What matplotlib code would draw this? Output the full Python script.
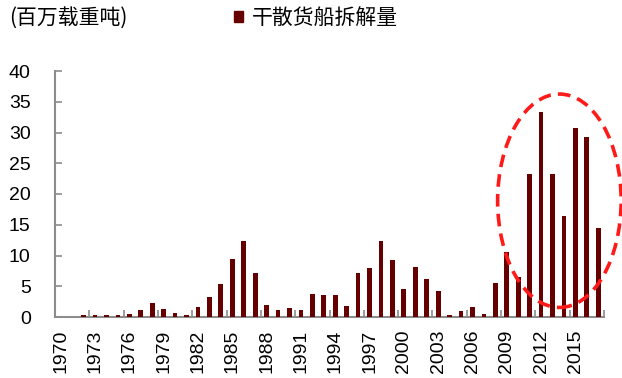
import matplotlib

matplotlib.use("Agg")
import matplotlib.pyplot as plt
from matplotlib.patches import Ellipse, Patch
import numpy as np

years = list(range(1970, 2018))
scrapping = [0, 0, 0.3, 0.3, 0.4, 0.4, 0.5, 1.1, 2.2, 1.3,
             0.6, 0.3, 1.7, 3.2, 5.3, 9.4, 12.3, 7.1, 2.0, 1.1,
             1.5, 1.1, 3.8, 3.5, 3.5, 1.8, 7.1, 7.9, 12.3, 9.3,
             4.6, 8.1, 6.1, 4.2, 0.3, 0.9, 1.7, 0.5, 5.6, 10.5,
             6.5, 23.2, 33.4, 23.2, 16.4, 30.7, 29.2, 14.5]
y_ticks = [0, 5, 10, 15, 20, 25, 30, 35, 40]

BAR = "#660000"
GRID = "#8c8c8c"
CJK = ["Noto Sans CJK SC", "DejaVu Sans"]

plt.rcParams["font.family"] = ["Liberation Sans", "DejaVu Sans"]

fig = plt.figure(figsize=(6.22, 3.78), dpi=100)
ax = fig.add_axes([55 / 622, 1 - 317 / 378, 549 / 622, 246 / 378])

x = np.arange(len(years))
ax.bar(x, scrapping, width=0.42, color=BAR, zorder=3)

ax.set_xlim(-0.5, len(years) - 0.5)
ax.set_ylim(0, 40)
ax.set_yticks(y_ticks)
ax.set_yticklabels([str(v) for v in y_ticks], fontsize=14)
ax.tick_params(axis="y", direction="in", length=5, width=1.2, color=GRID, pad=17.5)

# tick marks on category boundaries, labels on every 3rd category
ax.set_xticks(np.arange(-0.5, len(years), 3))
ax.set_xticklabels([])
ax.tick_params(axis="x", which="major", direction="in", length=5, width=1.2, color=GRID)
ax.set_xticks(x[::3], minor=True)
ax.set_xticklabels([str(y) for y in years[::3]], minor=True, rotation=90, fontsize=14)
ax.tick_params(axis="x", which="minor", length=0, pad=9)

for s in ("top", "right"):
    ax.spines[s].set_visible(False)
for s in ("left", "bottom"):
    ax.spines[s].set_color(GRID)
    ax.spines[s].set_linewidth(1.5)

# highlight of the recent scrapping wave
ax.add_patch(Ellipse((43.6, 18.9), 10.8, 34.7, fill=False, edgecolor="#ff1a1a",
                     lw=2.6, ls=(0, (3.5, 2)), clip_on=False, zorder=5))

fig.text(9 / 622, 1 - 18 / 378, "(百万载重吨)", fontsize=15, family=CJK, va="center")
fig.legend(handles=[Patch(color=BAR, label="干散货船拆解量")], loc="center left",
           bbox_to_anchor=(234 / 622, 1 - 18 / 378), frameon=False, borderpad=0,
           borderaxespad=0, handlelength=0.45, handleheight=0.45, handletextpad=0.4,
           prop={"family": CJK, "size": 15})

fig.savefig("out.png", dpi=100)
